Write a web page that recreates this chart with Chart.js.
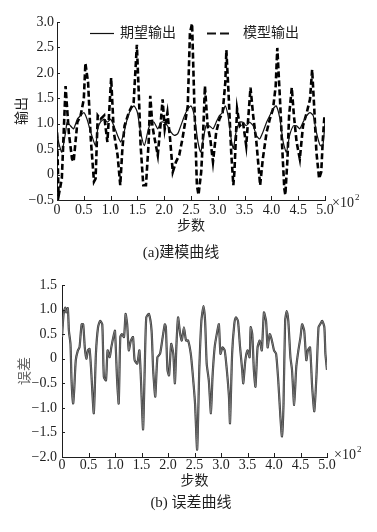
<!DOCTYPE html>
<html>
<head>
<meta charset="utf-8">
<script src="https://cdn.jsdelivr.net/npm/chart.js@4.4.0/dist/chart.umd.min.js"></script>
<style>
  html, body { margin: 0; padding: 0; background: #fff; }
  canvas { display: block; }
</style>
</head>
<body>
<canvas id="modelChart" width="377" height="266"></canvas>
<canvas id="errorChart" width="377" height="266"></canvas>
<script>
// ===== data (x in steps, y in output units) =====
const desiredSteps = [0,3,9,16,19,25,31,38,44,50,56,63,72,76,81,88,94,100,106,113,119,125,131,138,144,150,156,163,169,175,181,188,194,200,206,213,219,225,231,238,244,250,256,263,268,272,278,284,291,297,303,309,314,319,325,329,334,341,347,353,359,366,372,378,384,391,397,403,409,416,422,428,434,441,447,453,459,466,472,478,484,491,496,500];
const desiredValues = [0.90,0.64,0.44,0.83,1.03,0.96,0.90,1.09,1.16,1.22,1.09,0.83,0.57,0.90,1.03,1.09,1.03,1.09,0.96,0.77,0.64,0.83,1.09,1.29,1.35,1.22,0.83,0.57,0.83,1.03,1.03,0.90,1.03,1.03,0.96,0.83,0.77,0.80,0.96,1.16,1.29,1.35,1.16,0.64,0.44,0.64,0.96,0.96,0.90,1.03,1.16,1.22,1.35,1.16,0.70,0.51,0.83,1.03,1.03,0.96,1.03,0.96,0.77,0.70,0.83,1.03,1.16,1.29,1.35,1.09,0.64,0.44,0.77,0.96,0.96,0.90,1.03,1.16,1.22,1.16,0.83,0.57,0.57,1.03];

const modelSteps = [0,3,9,16,22,28,31,38,44,50,53,58,63,69,72,76,81,88,94,97,101,106,113,118,122,126,134,143,149,153,156,161,166,171,174,178,181,188,193,197,201,206,211,216,222,228,234,244,248,252,256,261,264,269,272,276,281,286,291,297,303,309,314,316,320,325,329,331,336,341,347,353,359,361,366,372,379,384,391,397,403,408,411,416,420,424,426,430,433,438,442,447,453,459,466,472,476,480,484,489,493,496,499];
const modelValues = [0.83,-0.42,-0.08,1.74,0.83,0.31,0.25,1.03,1.16,1.48,2.19,1.81,0.70,-0.14,-0.08,1.16,1.09,1.16,0.64,1.16,1.90,0.83,0.38,-0.21,0.51,0.96,1.22,1.42,2.55,1.48,0.57,-0.21,-0.21,0.64,1.55,0.96,0.77,0.38,0.96,1.48,0.90,1.22,0.70,0.05,0.25,0.38,0.70,1.35,2.78,2.97,1.48,-0.21,-0.40,0.05,0.64,1.74,0.96,0.70,0.25,0.83,1.09,1.22,1.81,2.45,1.61,0.44,-0.21,0.05,1.29,0.96,1.03,0.57,1.42,1.71,1.16,0.64,-0.21,0.31,0.83,1.09,1.29,1.74,2.49,1.48,0.57,-0.27,-0.40,0.31,1.16,1.71,1.16,0.64,0.31,0.96,1.22,1.48,2.06,1.29,0.44,-0.08,0.05,0.70,1.16];

const errorSteps = [0,3,6,8,11,13,16,18,21,23,26,30,33,37,40,43,46,49,52,55,60,64,68,72,76,79,83,86,90,93,98,100,104,107,110,113,117,120,123,126,130,134,137,142,146,149,153,156,159,164,169,172,176,180,185,190,194,196,199,202,206,210,213,216,219,223,226,230,234,238,243,246,251,255,259,263,267,270,273,277,281,284,288,292,296,299,303,307,311,315,317,321,325,328,332,336,340,342,346,350,354,356,359,362,365,369,373,377,381,385,388,392,396,400,404,408,412,415,418,421,424,427,431,434,438,442,446,450,453,457,461,464,468,472,476,480,484,487,491,495,497,500];
const errorValues = [0.44,0.91,1.04,0.94,1.03,0.57,0.30,-0.44,-0.91,-0.64,-0.03,0.17,0.23,0.70,0.70,0.23,0.00,0.17,0.20,-0.23,-1.11,0.10,0.64,0.77,0.70,-0.37,-0.44,0.17,0.03,0.23,0.50,0.57,-0.44,-0.91,0.44,0.50,0.44,0.91,0.70,0.17,0.37,0.44,-0.03,-0.10,0.17,-0.44,-1.44,-0.23,0.84,0.91,0.57,-0.23,-0.77,0.03,0.10,0.44,0.70,0.64,-0.23,-0.34,0.30,0.10,-0.50,0.30,0.84,0.50,0.37,0.64,0.37,0.37,0.10,-0.23,-0.91,-1.85,-0.23,0.77,1.07,0.77,-0.10,-0.44,-1.11,-0.37,0.23,0.50,0.70,0.10,0.23,0.17,-0.23,-0.77,-1.31,0.10,0.70,0.84,0.77,0.23,-0.23,-0.50,-0.03,0.17,0.03,0.64,0.50,-0.23,-0.57,0.23,0.37,0.17,0.94,0.77,0.23,0.50,0.37,0.17,0.10,-0.44,-1.17,-1.58,-0.91,0.77,0.97,0.77,0.03,-0.23,-0.94,-0.17,0.17,0.44,0.70,0.57,-0.03,0.17,0.23,-0.57,-1.07,-0.37,0.64,0.70,0.77,0.64,0.10,-0.23];

const xTickLabels = ['0','0.5','1.0','1.5','2.0','2.5','3.0','3.5','4.0','4.5','5.0'];
const modelYTickLabels = ['\u22120.5','0','0.5','1.0','1.5','2.0','2.5','3.0'];
const errorYTickLabels = ['\u22122.0','\u22121.5','\u22121.0','\u22120.5','0','0.5','1.0','1.5'];

const SERIF = '"Liberation Serif", "Noto Sans CJK SC", serif';
const TEXT = '#1e1e1e';

function toPoints(steps, values) {
  const n = Math.min(steps.length, values.length);
  const pts = [];
  for (let i = 0; i < n; i++) pts.push({ x: steps[i], y: values[i] });
  return pts;
}

// ticks in the figure point into the plot area
const inwardTicks = {
  id: 'inwardTicks',
  afterDraw(chart) {
    const { ctx, chartArea, scales: { x, y } } = chart;
    ctx.save();
    ctx.strokeStyle = TEXT;
    ctx.lineWidth = 1;
    ctx.beginPath();
    x.ticks.forEach(t => {
      const px = Math.round(x.getPixelForValue(t.value)) + 0.5;
      ctx.moveTo(px, chartArea.bottom);
      ctx.lineTo(px, chartArea.bottom - 4);
    });
    y.ticks.forEach(t => {
      const py = Math.round(y.getPixelForValue(t.value)) + 0.5;
      ctx.moveTo(chartArea.left, py);
      ctx.lineTo(chartArea.left + 3, py);
    });
    ctx.stroke();
    ctx.restore();
  }
};

// caption, x10^2 marker and the in-plot legend
const figureText = {
  id: 'figureText',
  afterDraw(chart, args, opts) {
    const { ctx, chartArea } = chart;
    ctx.save();
    ctx.fillStyle = TEXT;
    ctx.textBaseline = 'middle';

    // x10^2
    ctx.textAlign = 'left';
    ctx.font = '14px ' + SERIF;
    const ex = chartArea.right + 7, ey = chartArea.bottom + opts.expDy;
    ctx.fillText('\u00d710', ex, ey);
    const w = ctx.measureText('\u00d710').width;
    ctx.font = '9px ' + SERIF;
    ctx.fillText('2', ex + w + 1, ey - 5);

    // caption
    ctx.font = '15px ' + SERIF;
    ctx.textAlign = 'center';
    ctx.fillText(opts.caption, opts.captionX, opts.captionY);

    if (opts.legend) {
      ctx.font = '14px ' + SERIF;
      ctx.textAlign = 'left';
      ctx.strokeStyle = '#111';
      ctx.beginPath();
      ctx.lineWidth = 1.2;
      ctx.moveTo(90, 33.5); ctx.lineTo(114, 33.5);
      ctx.stroke();
      ctx.fillText('期望输出', 120, 33);

      ctx.beginPath();
      ctx.lineWidth = 2;
      ctx.moveTo(207, 33.5); ctx.lineTo(216, 33.5);
      ctx.moveTo(220, 33.5); ctx.lineTo(229, 33.5);
      ctx.stroke();
      ctx.fillText('模型输出', 243, 33);
    }
    ctx.restore();
  }
};

function baseScales(cfg) {
  return {
    x: {
      type: 'linear',
      min: 0,
      max: 500,
      afterFit: s => { s.height = cfg.xHeight; },
      grid: { display: false, drawTicks: false },
      border: { display: true, color: TEXT, width: 1 },
      ticks: {
        stepSize: 50,
        autoSkip: false,
        maxRotation: 0,
        padding: cfg.xPad,
        color: TEXT,
        font: { family: SERIF, size: 14 },
        callback: (v, i) => xTickLabels[i]
      },
      title: {
        display: true,
        text: '步数',
        color: TEXT,
        font: { family: SERIF, size: 14 },
        padding: { top: 0, bottom: cfg.xTitlePad }
      }
    },
    y: {
      min: cfg.yMin,
      max: cfg.yMax,
      afterFit: s => { s.width = cfg.yWidth; },
      grid: { display: false, drawTicks: false },
      border: { display: true, color: TEXT, width: 1 },
      ticks: {
        stepSize: 0.5,
        padding: cfg.yPad,
        color: TEXT,
        font: { family: SERIF, size: 14 },
        callback: (v, i) => cfg.yLabels[i]
      },
      title: {
        display: true,
        text: cfg.yTitle,
        color: cfg.yTitleColor,
        font: { family: SERIF, size: 14 },
        padding: { top: cfg.yTitlePad, bottom: 0 }
      }
    }
  };
}

new Chart(document.getElementById('modelChart'), {
  type: 'line',
  data: {
    datasets: [
      {
        label: '期望输出',
        data: toPoints(desiredSteps, desiredValues),
        borderColor: '#111',
        borderWidth: 1.2,
        pointRadius: 0,
        tension: 0.2,
        fill: false
      },
      {
        label: '模型输出',
        data: toPoints(modelSteps, modelValues),
        borderColor: '#000',
        borderWidth: 2.6,
        borderDash: [6, 3],
        pointRadius: 0,
        tension: 0,
        fill: false
      }
    ]
  },
  options: {
    responsive: false,
    animation: false,
    layout: { padding: { top: 22, left: 0, right: 52, bottom: 0 } },
    plugins: {
      legend: { display: false },
      tooltip: { enabled: false },
      figureText: { caption: '(a)建模曲线', captionX: 181, captionY: 253, expDy: 3, legend: true }
    },
    scales: baseScales({
      xHeight: 66, xPad: 2, xTitlePad: 31,
      yMin: -0.5, yMax: 3.0, yWidth: 57, yPad: 3,
      yLabels: modelYTickLabels, yTitle: '输出', yTitleColor: TEXT, yTitlePad: 14
    })
  },
  plugins: [inwardTicks, figureText]
});

new Chart(document.getElementById('errorChart'), {
  type: 'line',
  data: {
    datasets: [
      {
        label: '误差',
        data: toPoints(errorSteps, errorValues),
        borderColor: '#8c8c8c',
        borderWidth: 0.8,
        pointRadius: 0,
        tension: 0.2,
        fill: false
      },
      {
        label: '误差轮廓',
        data: toPoints(errorSteps, errorValues),
        borderColor: '#3a3a3a',
        borderWidth: 2.2,
        pointRadius: 0,
        tension: 0.2,
        fill: false
      }
    ]
  },
  options: {
    responsive: false,
    animation: false,
    layout: { padding: { top: 19, left: 0, right: 50, bottom: 0 } },
    plugins: {
      legend: { display: false },
      tooltip: { enabled: false },
      figureText: { caption: '(b) 误差曲线', captionX: 191, captionY: 237, expDy: -2, legend: false }
    },
    scales: baseScales({
      xHeight: 75, xPad: 0, xTitlePad: 42,
      yMin: -2.0, yMax: 1.5, yWidth: 62, yPad: 5,
      yLabels: errorYTickLabels, yTitle: '误差', yTitleColor: '#666', yTitlePad: 17
    })
  },
  plugins: [inwardTicks, figureText]
});
</script>
</body>
</html>
